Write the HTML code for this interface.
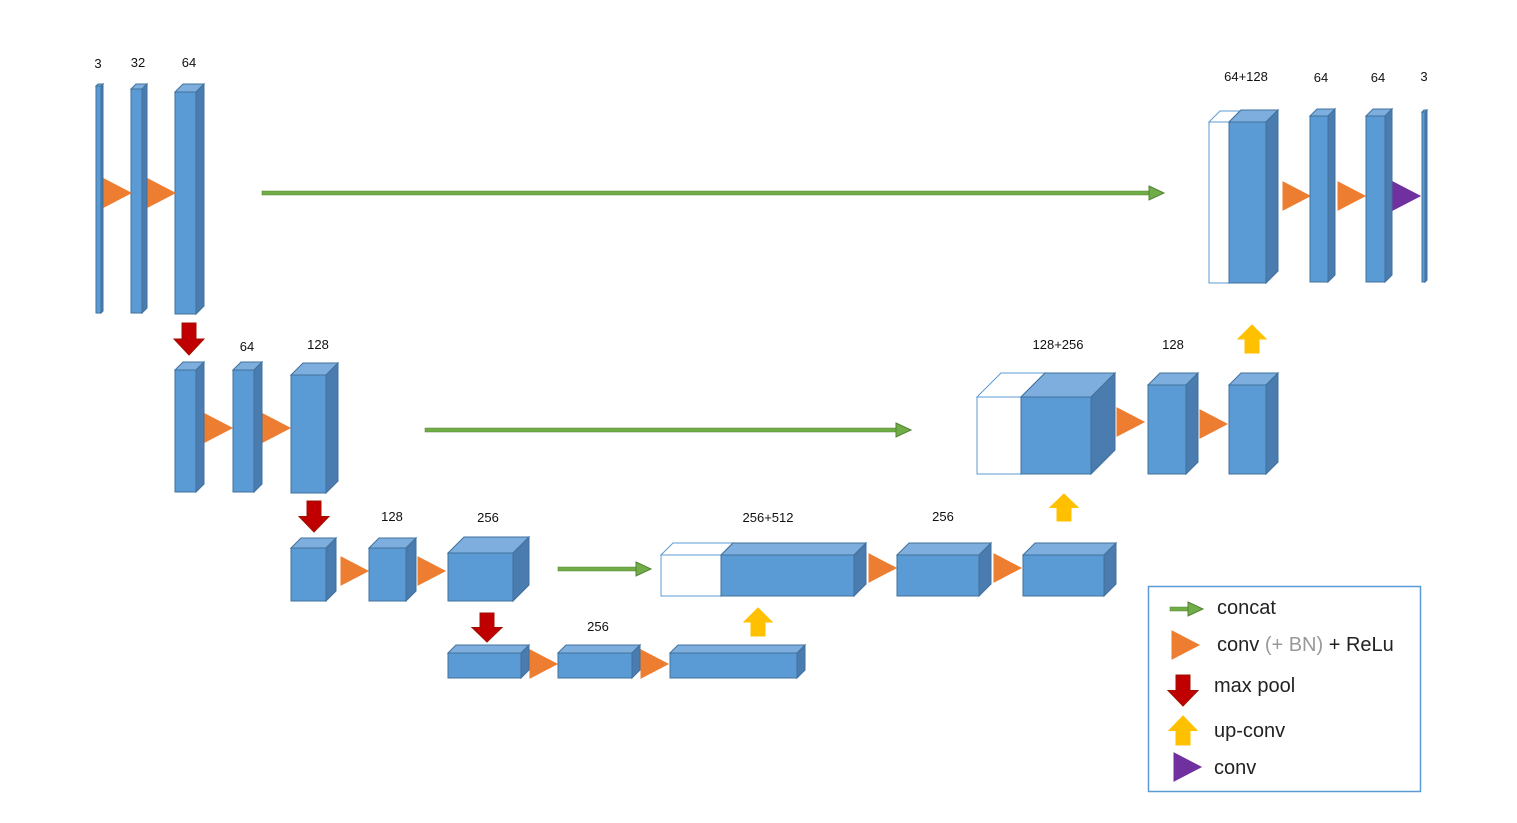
<!DOCTYPE html>
<html><head><meta charset="utf-8"><style>
html,body{margin:0;padding:0;background:#fff;}
svg{display:block;}
text{font-family:"Liberation Sans",sans-serif;font-size:13px;fill:#111;text-anchor:middle;}
.lg{font-size:20px;text-anchor:start;fill:#222;}
</style></head><body>
<svg id="s" width="1517" height="823" viewBox="0 0 1517 823" xmlns="http://www.w3.org/2000/svg">
<g id="g"></g>
<text x="98" y="68">3</text><text x="138" y="67">32</text><text x="189" y="67">64</text>
<text x="1246" y="81">64+128</text><text x="1321" y="82">64</text><text x="1378" y="82">64</text><text x="1424" y="81">3</text>
<text x="247" y="351">64</text><text x="318" y="349">128</text>
<text x="1058" y="349">128+256</text><text x="1173" y="349">128</text>
<text x="392" y="521">128</text><text x="488" y="522">256</text>
<text x="768" y="522">256+512</text><text x="943" y="521">256</text>
<text x="598" y="631">256</text>
<rect x="1148.5" y="586.5" width="272" height="205" fill="none" stroke="#5b9bd5" stroke-width="1.5"/>
<text class="lg" x="1217" y="614">concat</text>
<text class="lg" x="1217" y="651">conv <tspan fill="#999">(+ BN)</tspan> + ReLu</text>
<text class="lg" x="1214" y="692">max pool</text>
<text class="lg" x="1214" y="737">up-conv</text>
<text class="lg" x="1214" y="774">conv</text>
</svg>
<script>
var g=document.getElementById('g'),h='';
function P(pts,f,s){h+='<polygon points="'+pts.map(function(p){return p.join(',')}).join(' ')+'" fill="'+f+'" stroke="'+(s||f)+'" stroke-width="1"/>';}
function box(x,y,x2,y2,d,white){
 var fr=white?'#fff':'#5b9bd5',tp=white?'#fff':'#7eaedd',sd=white?'#fff':'#4a7cb0',st=white?'#5b9bd5':'#41719c';
 P([[x,y],[x+d,y-d],[x2+d,y-d],[x2,y]],tp,st);
 P([[x2,y],[x2+d,y-d],[x2+d,y2-d],[x2,y2]],sd,st);
 P([[x,y],[x2,y],[x2,y2],[x,y2]],fr,st);
}
function tri(x,cy,c){c=c||'#ed7d31';P([[x,cy-14],[x+27,cy],[x,cy+14]],c);}
function down(cx,y1,y2){var m=y1+(y2-y1)*0.5;P([[cx-7,y1],[cx+7,y1],[cx+7,m],[cx+15,m],[cx,y2],[cx-15,m],[cx-7,m]],'#c00000','#a01000');}
function up(cx,y1,y2){var m=y1+(y2-y1)*0.5;P([[cx,y1],[cx+14,m],[cx+7,m],[cx+7,y2],[cx-7,y2],[cx-7,m],[cx-14,m]],'#ffc000');}
function arr(x1,x2,y){h+='<rect x="'+x1+'" y="'+(y-2)+'" width="'+(x2-x1-14)+'" height="4" fill="#70ad47" stroke="#548235" stroke-width="0.5"/>';P([[x2-15,y-7],[x2,y],[x2-15,y+7]],'#70ad47','#548235');}
// row1
box(96,86,101,313,2);box(131,89,142,313,5);box(175,92,196,314,8);
tri(104,193);tri(148,193);arr(262,1164,193);
box(1209,122,1229,283,11,true);box(1229,122,1266,283,12);
tri(1283,196);box(1310,116,1328,282,7);tri(1338,196);box(1366,116,1385,282,7);
tri(1393,196,'#7030a0');box(1422,112,1425,282,2);
down(189,323,355);
// row2
box(175,370,196,492,8);tri(205,428);box(233,370,254,492,8);tri(263,428);box(291,375,326,493,12);
arr(425,911,430);
box(977,397,1021,474,24,true);box(1021,397,1091,474,24);tri(1117,422);
box(1148,385,1186,474,12);tri(1200,424);box(1229,385,1266,474,12);
up(1252,325,353);up(1064,494,521);
// row3
down(314,501,532);
box(291,548,326,601,10);tri(341,571);box(369,548,406,601,10);tri(418,571);box(448,553,513,601,16);
arr(558,651,569);down(487,613,642);
box(661,555,721,596,12,true);box(721,555,854,596,12);tri(869,568);
box(897,555,979,596,12);tri(994,568);box(1023,555,1104,596,12);
up(758,608,636);
// row4
box(448,653,521,678,8);tri(530,664);box(558,653,632,678,8);tri(641,664);box(670,653,797,678,8);
// legend
arr(1170,1203,609);tri(1172,645);down(1183,675,706);up(1183,716,745);tri(1174,767,'#7030a0');
g.innerHTML=h;
</script>
</body></html>
